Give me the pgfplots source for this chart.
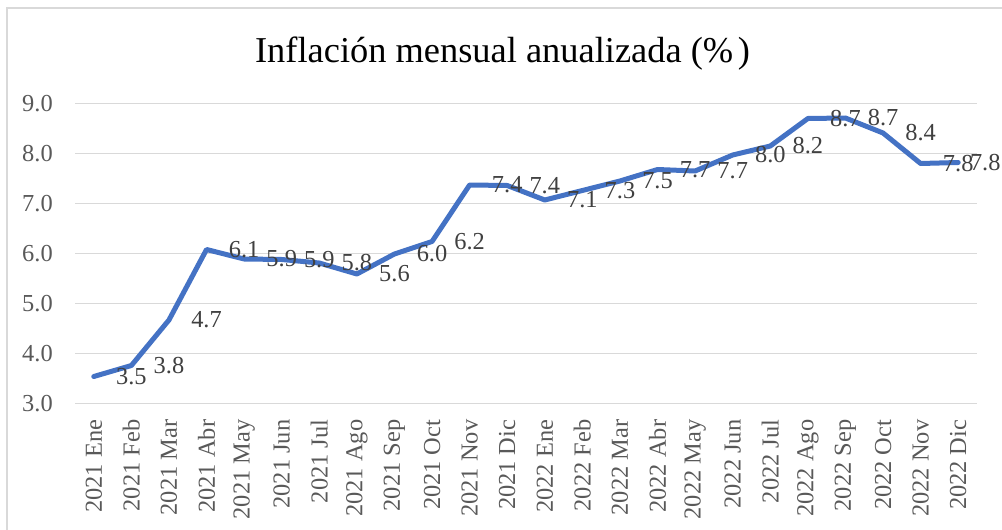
\documentclass[border=0pt]{standalone}
\usepackage{pgfplots}
\pgfplotsset{compat=1.18}
\usepackage{pgfplotstable}
\usepackage{fontspec}
\setmainfont{Liberation Serif}
\definecolor{lineblue}{RGB}{68,114,196}
\definecolor{tickc}{RGB}{89,89,89}
\definecolor{lblc}{RGB}{64,64,64}
\definecolor{gridc}{RGB}{217,217,217}
\pgfplotstableread{
x  y     lx     lbl
0  3.54  1      3.5
1  3.76  2      3.8
2  4.67  3      4.7
3  6.08  4      6.1
4  5.89  5      5.9
5  5.88  6      5.9
6  5.81  7      5.8
7  5.59  8      5.6
8  5.99  9      6.0
9  6.24  10     6.2
10 7.37  11     7.4
11 7.36  12     7.4
12 7.07  13     7.1
13 7.26  14     7.3
14 7.45  15     7.5
15 7.68  16     7.7
16 7.65  17     7.7
17 7.97  18     8.0
18 8.15  19     8.2
19 8.70  20     8.7
20 8.71  21     8.7
21 8.41  22     8.4
22 7.80  23     7.8
23 7.82  23.72  7.8
}\datatable
\begin{document}
\begin{tikzpicture}
\useasboundingbox (0,0) rectangle (751.5pt,396.75pt);
\draw[gridc, line width=1.2pt] (5.25pt,-2pt) -- (5.25pt,390.75pt) -- (753pt,390.75pt);
\node[font=\fontsize{27.3}{32}\selectfont, text=black, anchor=base, inner sep=0pt] at (376.9pt,349.5pt) {Inflación mensual anualizada (\%\hspace{3.5pt})};
\begin{axis}[
  at={(56.25pt,94.125pt)}, anchor=south west,
  scale only axis, width=676.5pt, height=225pt,
  xmin=-0.5, xmax=23.5, ymin=3, ymax=9,
  ytick={3,4,5,6,7,8,9},
  xtick={0,...,23},
  xticklabels={2021 Ene,2021 Feb,2021 Mar,2021 Abr,2021 May,2021 Jun,2021 Jul,2021 Ago,2021 Sep,2021 Oct,2021 Nov,2021 Dic,2022 Ene,2022 Feb,2022 Mar,2022 Abr,2022 May,2022 Jun,2022 Jul,2022 Ago,2022 Sep,2022 Oct,2022 Nov,2022 Dic},
  axis x line*=bottom, axis y line*=left,
  x axis line style={draw=gridc, line width=1.1pt},
  y axis line style={draw=none},
  major tick length=0pt,
  ymajorgrids, grid style={gridc, line width=1.1pt},
  xticklabel style={rotate=90, anchor=east, inner sep=0pt, text=tickc, font=\fontsize{18.3}{21}\selectfont},
  yticklabel style={anchor=east, inner sep=0pt, text=tickc, font=\fontsize{18.3}{21}\selectfont,
    /pgf/number format/.cd, fixed, fixed zerofill, precision=1, assume math mode=true},
  xticklabel shift=12pt,
  yticklabel shift=16.5pt,
  clip=false,
]
\addplot[lineblue, line width=3.75pt, line join=round, line cap=round, mark=none] table[x=x, y=y] {\datatable};
\addplot[draw=none, mark=none, nodes near coords, point meta=explicit symbolic,
  every node near coord/.append style={anchor=center, inner sep=0pt, text=lblc, font=\fontsize{18.3}{21}\selectfont}]
  table[x=lx, y=y, meta=lbl] {\datatable};
\end{axis}
\end{tikzpicture}
\end{document}
